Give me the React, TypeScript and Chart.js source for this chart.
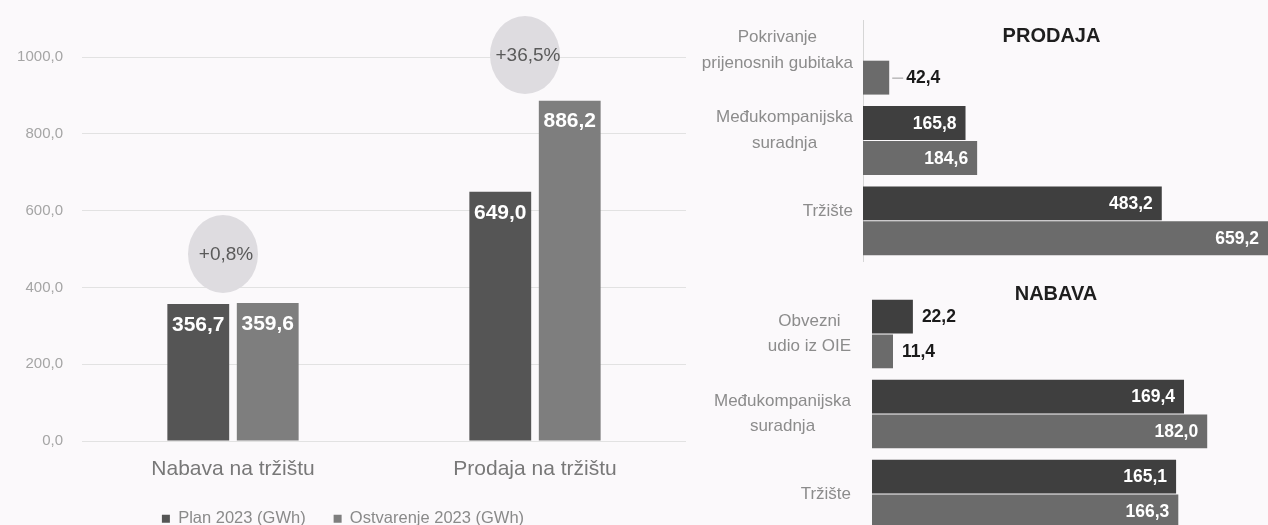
import React, { useEffect, useRef } from "react";
import { Chart, registerables } from "chart.js";

Chart.register(...registerables);

// ---------- data ----------
const seriesNames = ["Plan 2023 (GWh)", "Ostvarenje 2023 (GWh)"];

const mainCategories = ["Nabava na tržištu", "Prodaja na tržištu"];
const mainPlan = [356.7, 649.0];
const mainActual = [359.6, 886.2];
const mainChangeLabels = ["+0,8%", "+36,5%"];
const mainChangeLevels = [487, 1005];
const mainAxisMin = 0;
const mainAxisMax = 1000;
const mainAxisStep = 200;

const salesTitle = "PRODAJA";
const salesCategories = [["Pokrivanje", "prijenosnih gubitaka"], ["Međukompanijska", "suradnja"], ["Tržište"]];
const salesPlan = [null, 165.8, 483.2];
const salesActual = [42.4, 184.6, 659.2];
const salesAxisMax = 655;

const purchaseTitle = "NABAVA";
const purchaseCategories = [["Obvezni", "udio iz OIE"], ["Međukompanijska", "suradnja"], ["Tržište"]];
const purchasePlan = [22.2, 169.4, 165.1];
const purchaseActual = [11.4, 182.0, 166.3];
const purchaseAxisMax = 215;

// ---------- helpers ----------
const FAMILY = "'Liberation Sans', Arial, sans-serif";
const fmt = (v: number) => Number(v).toFixed(1).replace(".", ",");

function makeMain(canvas: HTMLCanvasElement) {
  const decor = {
    id: "mainDecor",
    beforeDatasetsDraw(chart: any) {
      const { ctx } = chart;
      const x = chart.scales.x;
      const y = chart.scales.y;
      ctx.save();
      mainChangeLabels.forEach((t, i) => {
        const cx = x.getPixelForValue(i) - 10;
        const cy = y.getPixelForValue(mainChangeLevels[i]);
        ctx.beginPath();
        ctx.ellipse(cx, cy, 35, 39, 0, 0, Math.PI * 2);
        ctx.fillStyle = "#dedce0";
        ctx.fill();
        ctx.font = `19px ${FAMILY}`;
        ctx.fillStyle = "#5a5a5a";
        ctx.textAlign = "center";
        ctx.textBaseline = "middle";
        ctx.fillText(t, cx + 3, cy + 1);
      });
      ctx.restore();
    },
    afterDatasetsDraw(chart: any) {
      const { ctx } = chart;
      ctx.save();
      ctx.font = `bold 21px ${FAMILY}`;
      ctx.fillStyle = "#ffffff";
      ctx.textAlign = "center";
      ctx.textBaseline = "middle";
      chart.data.datasets.forEach((ds: any, di: number) => {
        const meta = chart.getDatasetMeta(di);
        meta.data.forEach((bar: any, i: number) => {
          const v = ds.data[i];
          if (v == null) return;
          ctx.fillText(fmt(v), bar.x, bar.y + 21);
        });
      });
      ctx.restore();
    },
  };

  return new Chart(canvas, {
    type: "bar",
    data: {
      labels: mainCategories,
      datasets: [
        { label: seriesNames[0], data: mainPlan, backgroundColor: "#555555", barPercentage: 0.89, categoryPercentage: 0.46 },
        { label: seriesNames[1], data: mainActual, backgroundColor: "#7e7e7e", barPercentage: 0.89, categoryPercentage: 0.46 },
      ],
    },
    options: {
      responsive: false,
      animation: false,
      layout: { padding: { top: 57, right: 4, left: 0, bottom: 0 } },
      plugins: {
        legend: {
          position: "bottom",
          labels: {
            font: { size: 16.5, family: FAMILY },
            color: "#8a8a8a",
            boxWidth: 8,
            boxHeight: 8,
            padding: 28,
          },
        },
        tooltip: { enabled: false },
      },
      scales: {
        x: {
          grid: { display: false, drawTicks: false },
          border: { display: false },
          ticks: { font: { size: 21, family: FAMILY }, color: "#787878", padding: 15.5, maxRotation: 0, autoSkip: false },
          afterFit: (s: any) => { s.height = 41.5; },
        },
        y: {
          min: mainAxisMin,
          max: mainAxisMax,
          ticks: {
            stepSize: mainAxisStep,
            callback: (v: any) => fmt(v),
            font: { size: 15, family: FAMILY },
            color: "#a5a5a5",
            padding: 19,
          },
          grid: { color: "#e2e2e2", drawTicks: false },
          border: { display: false },
          afterFit: (s: any) => { s.width = 82; },
        },
      },
    } as any,
    plugins: [decor],
  });
}

interface HOpts {
  labels: string[][];
  plan: (number | null)[];
  actual: number[];
  title: string;
  titleY: number;
  max: number;
  axisWidth: number;
  labelPad: number;
  labelOffset: number;
  padTop: number;
  padBottom: number;
  axisLine: boolean;
  leader: boolean;
}

function makeHBar(canvas: HTMLCanvasElement, o: HOpts) {
  const decor = {
    id: "hDecor",
    afterDraw(chart: any) {
      const { ctx, chartArea } = chart;
      const y = chart.scales.y;
      ctx.save();
      // category labels
      ctx.font = `17px ${FAMILY}`;
      ctx.fillStyle = "#8c8c8c";
      ctx.textAlign = "center";
      ctx.textBaseline = "middle";
      o.labels.forEach((lines, i) => {
        const w = Math.max(...lines.map((l) => ctx.measureText(l).width));
        const cx = chartArea.left - o.labelPad - w / 2;
        const cy = y.getPixelForValue(i) + o.labelOffset;
        const lh = 25.5;
        lines.forEach((l, k) => ctx.fillText(l, cx, cy + (k - (lines.length - 1) / 2) * lh));
      });
      // title
      ctx.font = `bold 20px ${FAMILY}`;
      ctx.fillStyle = "#1e1e1e";
      ctx.fillText(o.title, (chartArea.left + chartArea.right) / 2 - 14, o.titleY);
      // values
      ctx.font = `bold 17.5px ${FAMILY}`;
      chart.data.datasets.forEach((ds: any, di: number) => {
        const meta = chart.getDatasetMeta(di);
        meta.data.forEach((bar: any, i: number) => {
          const v = ds.data[i];
          if (v == null) return;
          const end = Math.min(bar.x, chartArea.right);
          if (end - bar.base > 50) {
            ctx.fillStyle = "#ffffff";
            ctx.textAlign = "right";
            ctx.fillText(fmt(v), end - 9, bar.y + 1);
          } else {
            ctx.fillStyle = "#1a1a1a";
            ctx.textAlign = "left";
            if (o.leader) {
              ctx.strokeStyle = "#9a9a9a";
              ctx.lineWidth = 1;
              ctx.beginPath();
              ctx.moveTo(end + 3, bar.y + 0.5);
              ctx.lineTo(end + 14, bar.y + 0.5);
              ctx.stroke();
              ctx.fillText(fmt(v), end + 17, bar.y + 1);
            } else {
              ctx.fillText(fmt(v), end + 9, bar.y + 1);
            }
          }
        });
      });
      ctx.restore();
    },
  };

  return new Chart(canvas, {
    type: "bar",
    data: {
      labels: o.labels,
      datasets: [
        { label: seriesNames[0], data: o.plan, backgroundColor: "#3f3f3f", barPercentage: 0.97, categoryPercentage: 0.87 },
        { label: seriesNames[1], data: o.actual, backgroundColor: "#6b6b6b", barPercentage: 0.97, categoryPercentage: 0.87 },
      ],
    },
    options: {
      indexAxis: "y",
      responsive: false,
      animation: false,
      layout: { padding: { top: o.padTop, bottom: o.padBottom, left: 0, right: 0 } },
      plugins: { legend: { display: false }, tooltip: { enabled: false } },
      scales: {
        x: { display: false, min: 0, max: o.max },
        y: {
          ticks: { display: false },
          grid: { display: false },
          border: { display: o.axisLine, color: "#d6d6d6", width: 1 },
          afterFit: (s: any) => { s.width = o.axisWidth; },
        },
      },
    } as any,
    plugins: [decor],
  });
}

export default function App() {
  const mainRef = useRef<HTMLCanvasElement>(null);
  const salesRef = useRef<HTMLCanvasElement>(null);
  const purchRef = useRef<HTMLCanvasElement>(null);

  useEffect(() => {
    const charts: Chart[] = [];
    if (mainRef.current) charts.push(makeMain(mainRef.current));
    if (salesRef.current)
      charts.push(
        makeHBar(salesRef.current, {
          labels: salesCategories,
          plan: salesPlan,
          actual: salesActual,
          title: salesTitle,
          titleY: 36,
          max: salesAxisMax,
          axisWidth: 173,
          labelPad: 10,
          labelOffset: -10,
          padTop: 20,
          padBottom: 9,
          axisLine: true,
          leader: true,
        })
      );
    if (purchRef.current)
      charts.push(
        makeHBar(purchRef.current, {
          labels: purchaseCategories,
          plan: purchasePlan,
          actual: purchaseActual,
          title: purchaseTitle,
          titleY: 24,
          max: purchaseAxisMax,
          axisWidth: 182,
          labelPad: 21,
          labelOffset: 0,
          padTop: 24,
          padBottom: 2,
          axisLine: false,
          leader: false,
        })
      );
    return () => charts.forEach((c) => c.destroy());
  }, []);

  return (
    <div
      style={{
        position: "fixed",
        left: 0,
        top: 0,
        width: 1268,
        height: 525,
        overflow: "hidden",
        background: "#fbf9fb",
      }}
    >
      <canvas ref={mainRef} width={690} height={537} style={{ position: "absolute", left: 0, top: 0 }} />
      <canvas ref={salesRef} width={578} height={270} style={{ position: "absolute", left: 690, top: 0 }} />
      <canvas ref={purchRef} width={578} height={266} style={{ position: "absolute", left: 690, top: 270 }} />
    </div>
  );
}
